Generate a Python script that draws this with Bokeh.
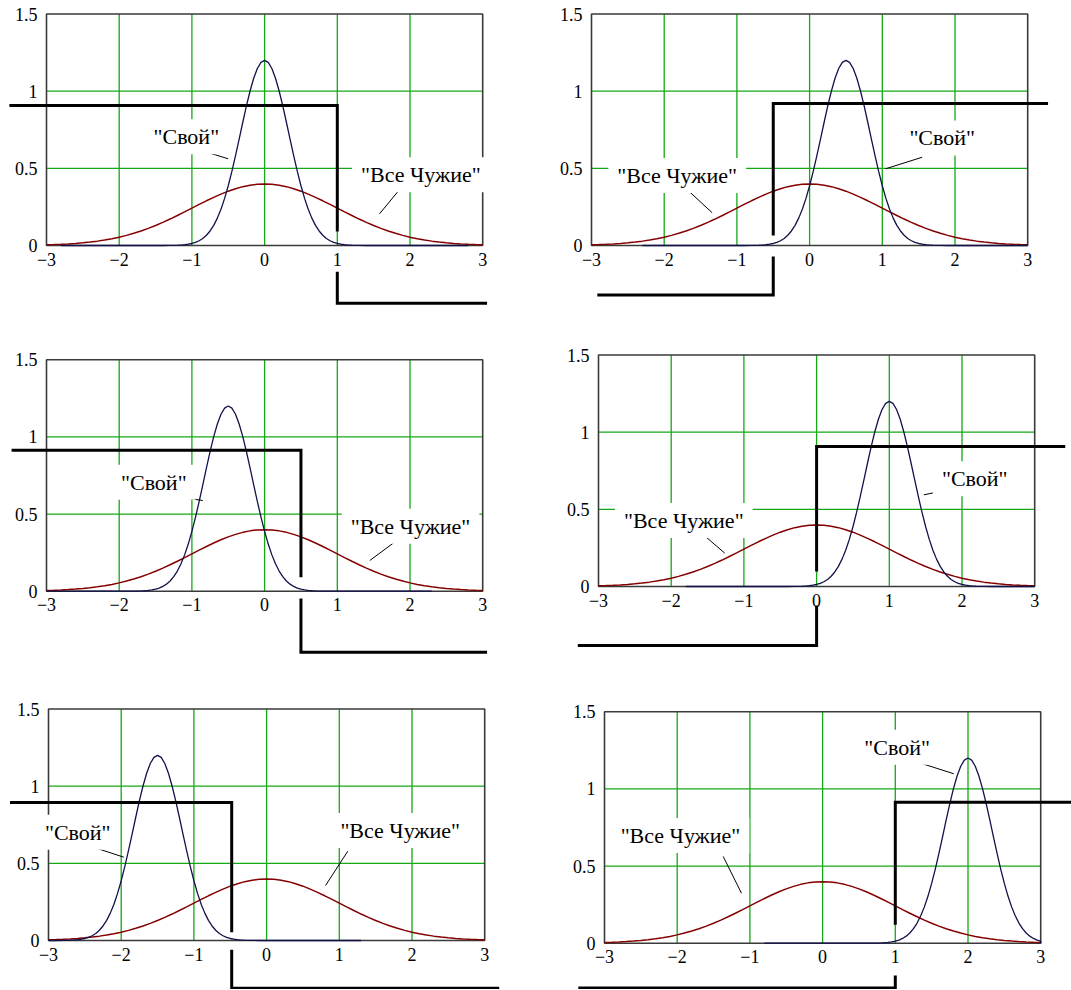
from bokeh.plotting import figure
from bokeh.models import Range1d, FixedTicker, Label
from bokeh.layouts import column, row
from bokeh.embed import file_html
from bokeh.resources import INLINE

# ---------------- data ----------------
x_ticks = [-3, -2, -1, 0, 1, 2, 3]
x_tick_labels = ["\u22123", "\u22122", "\u22121", "0", "1", "2", "3"]
y_ticks = [0, 0.5, 1, 1.5]
y_tick_labels = ["0", "0.5", "1", "1.5"]
XMIN, XMAX, YMIN, YMAX = -3, 3, 0, 1.5

# "Все Чужие" curve (same in all panels)
chuzhie_x = [-3.0, -2.9, -2.8, -2.7, -2.6, -2.5, -2.4, -2.3, -2.2, -2.1,
             -2.0, -1.9, -1.8, -1.7, -1.6, -1.5, -1.4, -1.3, -1.2, -1.1,
             -1.0, -0.9, -0.8, -0.7, -0.6, -0.5, -0.4, -0.3, -0.2, -0.1,
             0.0, 0.1, 0.2, 0.3, 0.4, 0.5, 0.6, 0.7, 0.8, 0.9,
             1.0, 1.1, 1.2, 1.3, 1.4, 1.5, 1.6, 1.7, 1.8, 1.9,
             2.0, 2.1, 2.2, 2.3, 2.4, 2.5, 2.6, 2.7, 2.8, 2.9, 3.0]
chuzhie_y = [0.0044, 0.0060, 0.0079, 0.0104, 0.0136, 0.0175, 0.0224, 0.0283, 0.0355, 0.0440,
             0.0540, 0.0656, 0.0790, 0.0940, 0.1109, 0.1295, 0.1497, 0.1714, 0.1942, 0.2179,
             0.2420, 0.2661, 0.2897, 0.3123, 0.3332, 0.3521, 0.3683, 0.3814, 0.3910, 0.3970,
             0.3989, 0.3970, 0.3910, 0.3814, 0.3683, 0.3521, 0.3332, 0.3123, 0.2897, 0.2661,
             0.2420, 0.2179, 0.1942, 0.1714, 0.1497, 0.1295, 0.1109, 0.0940, 0.0790, 0.0656,
             0.0540, 0.0440, 0.0355, 0.0283, 0.0224, 0.0175, 0.0136, 0.0104, 0.0079, 0.0060, 0.0044]

# "Свой" curve shape, relative to its centre
svoy_dx = [-2.8, -1.4, -1.3, -1.25, -1.2, -1.15, -1.1, -1.05, -1.0, -0.95, -0.9, -0.85,
           -0.8, -0.75, -0.7, -0.65, -0.6, -0.55, -0.5, -0.45, -0.4, -0.35, -0.3, -0.25,
           -0.2, -0.15, -0.1, -0.05, 0.0, 0.05, 0.1, 0.15, 0.2, 0.25, 0.3, 0.35, 0.4,
           0.45, 0.5, 0.55, 0.6, 0.65, 0.7, 0.75, 0.8, 0.85, 0.9, 0.95, 1.0, 1.05, 1.1,
           1.15, 1.2, 1.25, 1.3, 1.4, 2.8]
svoy_y = [0.0, 0.0, 0.0006, 0.0010, 0.0018, 0.0030, 0.0050, 0.0082, 0.0130, 0.0202, 0.0308, 0.0457,
          0.0663, 0.0942, 0.1307, 0.1774, 0.2354, 0.3054, 0.3873, 0.4801, 0.5819, 0.6895, 0.7987, 0.9044,
          1.0014, 1.0839, 1.1469, 1.1865, 1.2000, 1.1865, 1.1469, 1.0839, 1.0014, 0.9044, 0.7987, 0.6895, 0.5819,
          0.4801, 0.3873, 0.3054, 0.2354, 0.1774, 0.1307, 0.0942, 0.0663, 0.0457, 0.0308, 0.0202, 0.0130, 0.0082, 0.0050,
          0.0030, 0.0018, 0.0010, 0.0006, 0.0, 0.0]

# per panel (order: top-left, top-right, mid-left, mid-right, bottom-left, bottom-right)
svoy_mean = [0.0, 0.5, -0.5, 1.0, -1.5, 2.0]
threshold = [1.0, -0.5, 0.5, 0.0, -0.48, 1.0]
level_left = [0.907, -0.32, 0.914, -0.382, 0.894, -0.29]
level_right = [-0.375, 0.92, -0.395, 0.907, -0.31, 0.914]
step_start = [-3.51, -2.92, -3.48, -3.285, -3.53, -3.36]
step_end = [3.06, 3.28, 3.06, 3.42, 3.2, 3.42]
gap_top = [0.09, 0.065, 0.091, 0.097, 0.054, 0.119]
gap_bottom = [-0.17, -0.071, -0.047, -0.123, -0.06, -0.21]

svoy_text = "\"Свой\""
chuzhie_text = "\"Все Чужие\""

# ---------------- layout / positions ----------------
svoy_label_pos = [(-1.077, 0.705), (1.824, 0.697), (-1.524, 0.706), (2.175, 0.698), (-2.598, 0.702), (1.026, 1.270)]
svoy_leader = [((-1.019, 0.637), (-0.501, 0.562)), ((1.549, 0.572), (1.044, 0.497)),
               ((-1.340, 0.620), (-0.850, 0.588)), ((1.805, 0.627), (1.475, 0.594)),
               ((-2.459, 0.616), (-1.964, 0.540)), ((1.347, 1.167), (1.805, 1.098))]
chuzhie_label_pos = [(2.149, 0.459), (-1.821, 0.454), (2.007, 0.421), (-1.827, 0.428), (1.838, 0.713), (-1.955, 0.698)]
chuzhie_leader = [((1.838, 0.352), (1.580, 0.205)), ((-1.670, 0.356), (-1.340, 0.212)),
                  ((1.777, 0.314), (1.447, 0.199)), ((-1.574, 0.342), (-1.263, 0.216)),
                  ((1.117, 0.579), (0.810, 0.356)), ((-1.367, 0.562), (-1.116, 0.324))]

U, V = 72.7, 154.3                 # px per unit
col_x0 = [0, 540]
col_w = [540, 531]
row_y0 = [0, 340, 690]
row_h = [340, 350, 299]
box_px = [(46, 245), (591, 245), (46, 590.7), (598, 586), (48, 940), (604, 942.7)]

FONT = "Liberation Serif"
GRID = "#14a814"
RED = "#840000"
NAVY = "#12124a"


def make_panel(i):
    r, c = divmod(i, 2)
    W, H = col_w[c], row_h[r]
    X0, Y0 = col_x0[c], row_y0[r]
    A, B = box_px[i]
    xs = XMIN - (A - X0) / U
    ye = (B - Y0) / V
    p = figure(width=W, height=H, x_range=Range1d(xs, xs + W / U),
               y_range=Range1d(ye - H / V, ye), output_backend="svg",
               toolbar_location=None, min_border=0, outline_line_color=None,
               background_fill_color="white", border_fill_color="white")
    p.xgrid.visible = False
    p.ygrid.visible = False

    for ax, loc, ticks, labels, standoff in ((p.xaxis, YMIN, x_ticks, x_tick_labels, 7),
                                            (p.yaxis, XMIN, y_ticks, y_tick_labels, 9)):
        ax.fixed_location = loc
        ax.ticker = FixedTicker(ticks=ticks)
        ax.major_label_overrides = dict(zip(ticks, labels))
        ax.axis_line_color = None
        ax.major_tick_line_color = None
        ax.minor_tick_line_color = None
        ax.major_tick_in = 0
        ax.major_tick_out = 0
        ax.major_label_standoff = standoff
        ax.major_label_text_font = FONT
        ax.major_label_text_font_size = "18px"
        ax.major_label_text_color = "black"

    # grid lines inside the box
    gx = [t for t in x_ticks if XMIN < t < XMAX]
    gy = [t for t in y_ticks if YMIN < t < YMAX]
    p.segment(x0=gx, y0=[YMIN] * len(gx), x1=gx, y1=[YMAX] * len(gx), line_color=GRID, line_width=1.3)
    p.segment(x0=[XMIN] * len(gy), y0=gy, x1=[XMAX] * len(gy), y1=gy, line_color=GRID, line_width=1.3)
    # box
    p.quad(left=[XMIN], right=[XMAX], bottom=[YMIN], top=[YMAX], fill_color=None,
           line_color="#3a3a3a", line_width=1.6)

    # curves
    p.line(chuzhie_x, chuzhie_y, line_color=RED, line_width=1.5)
    sx = [min(XMAX, max(XMIN, svoy_mean[i] + d)) for d in svoy_dx]
    p.line(sx, svoy_y, line_color=NAVY, line_width=1.3)

    # threshold step
    t = threshold[i]
    hi_left = level_left[i] > level_right[i]
    if hi_left:
        hi_x = [step_start[i], t, t]; hi_y = [level_left[i], level_left[i], gap_top[i]]
        lo_x = [t, t, step_end[i]]; lo_y = [gap_bottom[i], level_right[i], level_right[i]]
    else:
        lo_x = [step_start[i], t, t]; lo_y = [level_left[i], level_left[i], gap_bottom[i]]
        hi_x = [t, t, step_end[i]]; hi_y = [gap_top[i], level_right[i], level_right[i]]
    p.multi_line(xs=[hi_x, lo_x], ys=[hi_y, lo_y], line_color="black", line_width=3,
                 line_join="miter")

    # leaders
    for (a, b) in (svoy_leader[i], chuzhie_leader[i]):
        p.segment(x0=[a[0]], y0=[a[1]], x1=[b[0]], y1=[b[1]], line_color="black", line_width=1)

    # labels
    for txt, (lx, ly) in ((svoy_text, svoy_label_pos[i]), (chuzhie_text, chuzhie_label_pos[i])):
        p.add_layout(Label(x=lx, y=ly, text=txt, text_font=FONT, text_font_size="22px",
                           text_color="black", text_align="center", text_baseline="middle",
                           background_fill_color="white", padding=(9, 5)))
    return p


panels = [make_panel(i) for i in range(6)]
layout = column(row(panels[0], panels[1]), row(panels[2], panels[3]), row(panels[4], panels[5]))

open("out.html", "w").write(file_html(layout, INLINE))
